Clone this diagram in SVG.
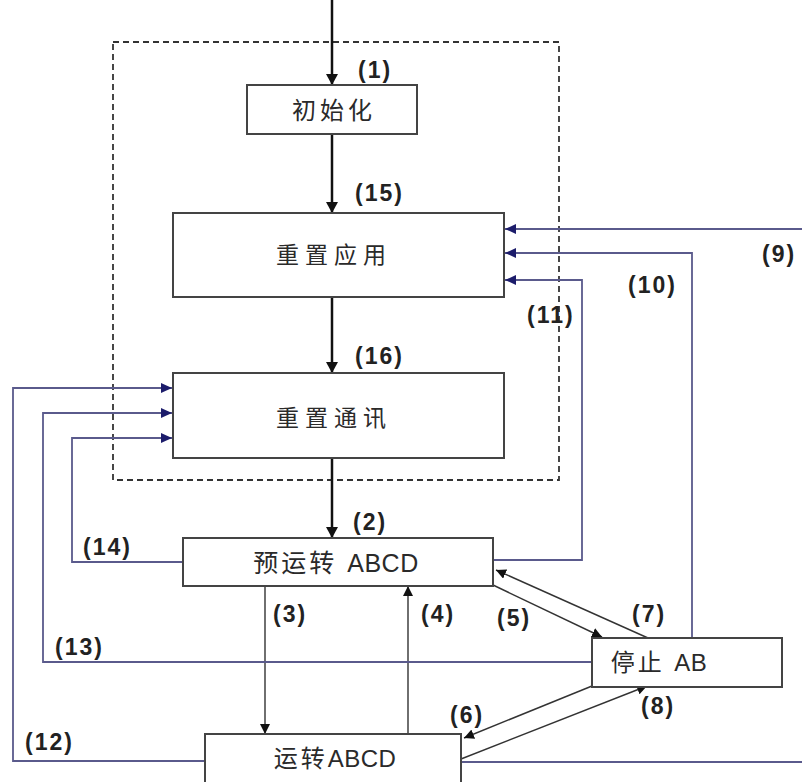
<svg xmlns="http://www.w3.org/2000/svg" width="802" height="782" viewBox="0 0 802 782">
<style>
.box{fill:#fff;stroke:#444;stroke-width:2}
.cjk{font-family:"Liberation Sans","Noto Sans CJK SC",sans-serif;font-size:22px;fill:#2a2a2a;text-anchor:middle;dominant-baseline:central}
.lat{letter-spacing:0.5px}
.lbl{font-family:"Liberation Sans",Arial,sans-serif;font-size:23px;font-weight:bold;fill:#222;letter-spacing:2px}
.main{stroke:#111;stroke-width:2.5;fill:none}
.thin{stroke:#333;stroke-width:1.4;fill:none}
.fb{stroke:#5a5a8c;stroke-width:1.8;fill:none}
</style>
<defs>
<marker id="mA" markerUnits="userSpaceOnUse" markerWidth="11" markerHeight="12" refX="11" refY="6" orient="auto"><path d="M0,0 L11,6 L0,12 z" fill="#111"/></marker>
<marker id="tA" markerUnits="userSpaceOnUse" markerWidth="10" markerHeight="10" refX="10" refY="5" orient="auto"><path d="M0,0 L10,5 L0,10 z" fill="#111"/></marker>
<marker id="nA" markerUnits="userSpaceOnUse" markerWidth="11" markerHeight="10" refX="11" refY="5" orient="auto"><path d="M0,0 L11,5 L0,10 z" fill="#1c1c6b"/></marker>
</defs>
<rect x="0" y="0" width="802" height="782" fill="#fff"/>
<rect id="boundary" x="113" y="42" width="446" height="438" fill="none" stroke="#333" stroke-width="1.8" stroke-dasharray="6,4"/>
<g id="connectors">
<line class="main" x1="332" y1="0" x2="332" y2="85" marker-end="url(#mA)"/>
<line class="main" x1="332" y1="134" x2="332" y2="213" marker-end="url(#mA)"/>
<line class="main" x1="332" y1="297" x2="332" y2="373" marker-end="url(#mA)"/>
<line class="main" x1="332" y1="458" x2="332" y2="538" marker-end="url(#mA)"/>
<line class="thin" x1="265" y1="586" x2="265" y2="734" marker-end="url(#tA)"/>
<line class="thin" x1="408" y1="734" x2="408" y2="586" marker-end="url(#tA)"/>
<line class="thin" x1="493" y1="585" x2="602" y2="637" marker-end="url(#tA)"/>
<line class="thin" x1="648" y1="638" x2="496" y2="570" marker-end="url(#tA)"/>
<line class="thin" x1="592" y1="686" x2="464" y2="738" marker-end="url(#tA)"/>
<line class="thin" x1="461" y1="759" x2="647" y2="686" marker-end="url(#tA)"/>
<polyline class="fb" points="802,229 505,229" marker-end="url(#nA)"/>
<polyline class="fb" points="692,638 692,253 505,253" marker-end="url(#nA)"/>
<polyline class="fb" points="493,560 582,560 582,280 505,280" marker-end="url(#nA)"/>
<polyline class="fb" points="205,761 13,761 13,388 172,388" marker-end="url(#nA)"/>
<polyline class="fb" points="592,662 43,662 43,413 172,413" marker-end="url(#nA)"/>
<polyline class="fb" points="183,562 72,562 72,438 172,438" marker-end="url(#nA)"/>
<line class="fb" x1="461" y1="762" x2="802" y2="762"/>
</g>
<g id="labels">
<text class="lbl" x="358" y="78">(1)</text>
<text class="lbl" x="355" y="201">(15)</text>
<text class="lbl" x="355" y="364">(16)</text>
<text class="lbl" x="353" y="530">(2)</text>
<text class="lbl" x="83" y="555">(14)</text>
<text class="lbl" x="273" y="622">(3)</text>
<text class="lbl" x="421" y="622">(4)</text>
<text class="lbl" x="497" y="626">(5)</text>
<text class="lbl" x="632" y="622">(7)</text>
<text class="lbl" x="55" y="655">(13)</text>
<text class="lbl" x="25" y="750">(12)</text>
<text class="lbl" x="450" y="723">(6)</text>
<text class="lbl" x="641" y="714">(8)</text>
<text class="lbl" x="762" y="262">(9)</text>
<text class="lbl" x="628" y="293">(10)</text>
<text class="lbl" x="527" y="323">(11)</text>
</g>
<g id="init"><rect class="box" x="247" y="85" width="170" height="49"/><text class="cjk" x="334" y="110" style="font-size:24px;letter-spacing:4px">初始化</text></g>
<g id="reset-app"><rect class="box" x="173" y="213" width="331" height="84"/><text class="cjk" x="334" y="255" style="font-size:23px;letter-spacing:6px">重置应用</text></g>
<g id="reset-comm"><rect class="box" x="173" y="373" width="331" height="85"/><text class="cjk" x="334" y="418" style="font-size:23px;letter-spacing:6px">重置通讯</text></g>
<g id="pre-op"><rect class="box" x="183" y="538" width="310" height="48"/><text class="cjk" x="336" y="563" style="font-size:25px;letter-spacing:3px">预运转 <tspan class="lat">ABCD</tspan></text></g>
<g id="stop"><rect class="box" x="592" y="638" width="190" height="49"/><text class="cjk" x="659" y="662" style="font-size:24px;letter-spacing:3px">停止 <tspan class="lat">AB</tspan></text></g>
<g id="operational"><rect class="box" x="205" y="734" width="256" height="60"/><text class="cjk" x="335" y="758" style="font-size:24px;letter-spacing:3px">运转<tspan class="lat">ABCD</tspan></text></g>
</svg>
